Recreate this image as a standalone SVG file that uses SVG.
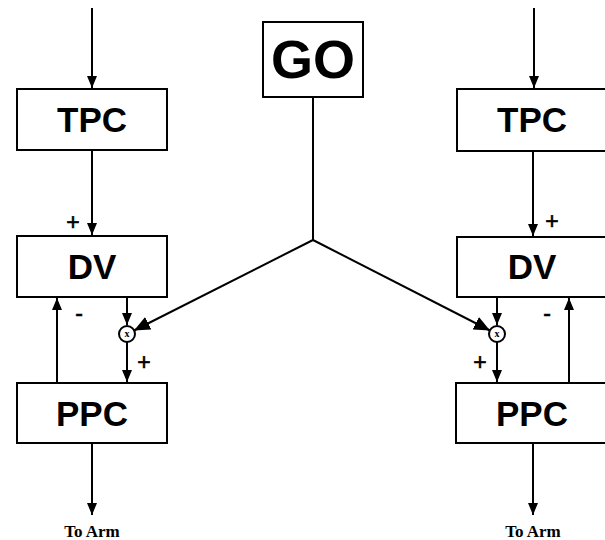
<svg xmlns="http://www.w3.org/2000/svg" width="605" height="540" viewBox="0 0 605 540">
<style>
.box{fill:#fff;stroke:#000;stroke-width:2}
.lbl{font-family:"Liberation Sans",Arial,sans-serif;font-weight:bold;font-size:35px;text-anchor:middle;fill:#000}
.ln{stroke:#000;stroke-width:2;fill:none}
.arr{marker-end:url(#ah)}
.big{marker-end:url(#ahb)}
.sign{font-family:"Liberation Sans",Arial,sans-serif;font-size:23px;text-anchor:middle;fill:#000;stroke:#000;stroke-width:0.6}
.arm{font-family:"Liberation Serif","Times New Roman",serif;font-weight:bold;font-size:17px;text-anchor:middle;fill:#000}
.mul{fill:#fff;stroke:#000;stroke-width:2}
.mx{font-family:"Liberation Serif",serif;font-weight:bold;font-size:10px;text-anchor:middle;fill:#000}
</style>
<defs>
<marker id="ah" markerUnits="userSpaceOnUse" markerWidth="12" markerHeight="12" refX="12" refY="6" orient="auto"><path d="M0,1 L12,6 L0,11 z" fill="#000"/></marker>
<marker id="ahb" markerUnits="userSpaceOnUse" markerWidth="16" markerHeight="14" refX="16" refY="7" orient="auto"><path d="M0,0 L16,7 L0,14 z" fill="#000"/></marker>
</defs>
<rect width="605" height="540" fill="#fff"/>
<g id="connectors">
<line class="ln arr" x1="92" y1="8" x2="92" y2="88"/>
<line class="ln arr" x1="92" y1="150" x2="92" y2="235"/>
<line class="ln arr" x1="127" y1="297" x2="127" y2="325"/>
<line class="ln arr" x1="127" y1="342" x2="127" y2="382"/>
<line class="ln arr" x1="57" y1="383" x2="57" y2="298"/>
<line class="ln arr" x1="92" y1="443" x2="92" y2="515"/>
<line class="ln arr" x1="534" y1="8" x2="534" y2="88"/>
<line class="ln arr" x1="533" y1="151" x2="533" y2="236"/>
<line class="ln arr" x1="497" y1="297" x2="497" y2="325"/>
<line class="ln arr" x1="497" y1="342" x2="497" y2="382"/>
<line class="ln arr" x1="569" y1="383" x2="569" y2="298"/>
<line class="ln arr" x1="533" y1="443" x2="533" y2="515"/>
<line class="ln" x1="313" y1="97" x2="313" y2="240"/>
<line class="ln big" x1="313" y1="240" x2="134" y2="330.5"/>
<line class="ln big" x1="313" y1="240" x2="490" y2="330.5"/>
<text class="sign" x="73" y="230">+</text>
<text class="sign" x="79" y="321">-</text>
<text class="sign" x="144" y="370">+</text>
<text class="sign" x="552" y="229">+</text>
<text class="sign" x="547" y="321">-</text>
<text class="sign" x="480" y="370">+</text>
</g>
<g id="go"><rect class="box" x="263" y="22" width="100" height="75"/><text class="lbl" x="313" y="78" style="font-size:54px">GO</text></g>
<g id="tpc-left"><rect class="box" x="17" y="89" width="150" height="61"/><text class="lbl" x="92" y="132">TPC</text></g>
<g id="dv-left"><rect class="box" x="17" y="236" width="150" height="61"/><text class="lbl" x="92" y="279">DV</text></g>
<g id="mult-left"><circle class="mul" cx="127" cy="334" r="8"/><text class="mx" x="127" y="337">x</text></g>
<g id="ppc-left"><rect class="box" x="17" y="383" width="150" height="60"/><text class="lbl" x="92" y="426">PPC</text></g>
<g id="arm-left"><text class="arm" x="92" y="537">To Arm</text></g>
<g id="tpc-right"><rect class="box" x="457" y="89" width="152" height="62"/><text class="lbl" x="532" y="132">TPC</text></g>
<g id="dv-right"><rect class="box" x="457" y="237" width="152" height="60"/><text class="lbl" x="532" y="279">DV</text></g>
<g id="mult-right"><circle class="mul" cx="497" cy="334" r="8"/><text class="mx" x="497" y="337">x</text></g>
<g id="ppc-right"><rect class="box" x="456" y="383" width="153" height="60"/><text class="lbl" x="532" y="426">PPC</text></g>
<g id="arm-right"><text class="arm" x="533" y="537">To Arm</text></g>
</svg>
